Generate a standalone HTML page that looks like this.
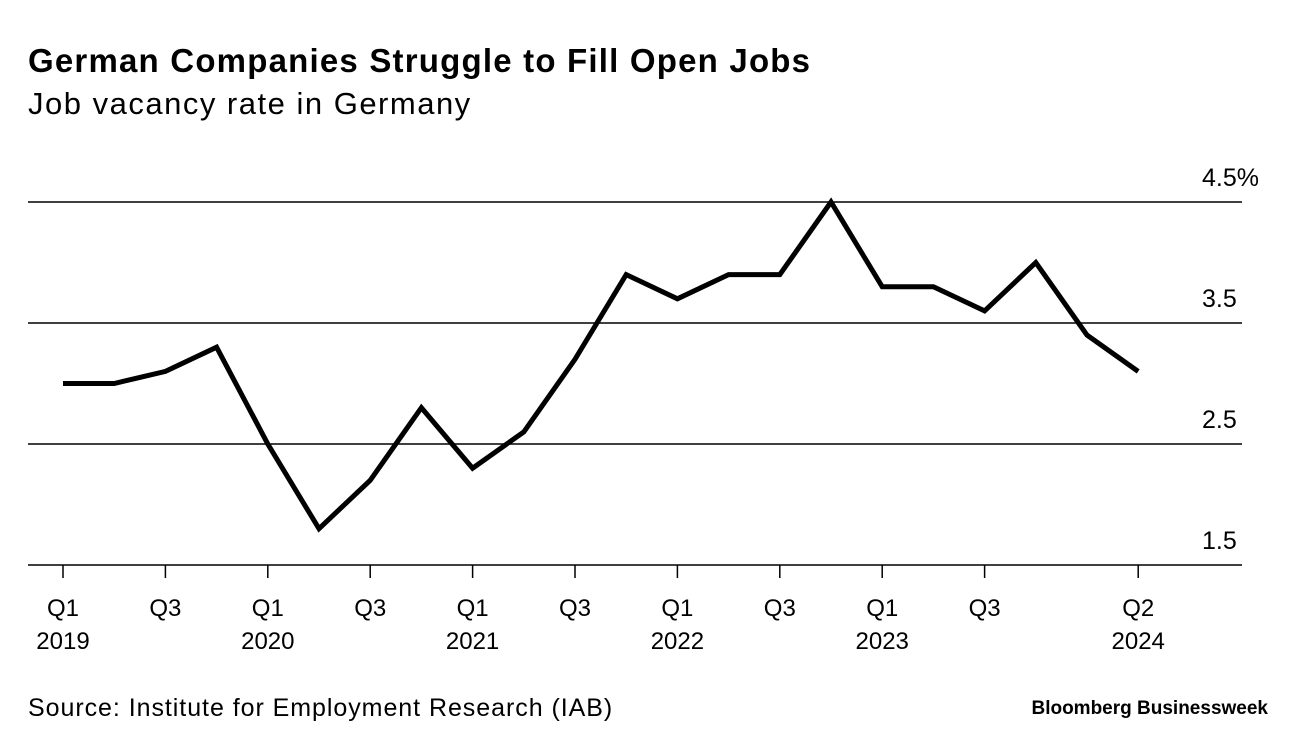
<!DOCTYPE html>
<html><head><meta charset="utf-8"><style>
html,body{margin:0;padding:0;background:#fff;}
body{width:1296px;height:750px;position:relative;font-family:"Liberation Sans",Arial,sans-serif;color:#000;overflow:hidden;}
.t{position:absolute;white-space:nowrap;}
</style></head><body>
<div class="t" style="left:28px;top:42px;font-size:33px;font-weight:bold;letter-spacing:1.2px;">German Companies Struggle to Fill Open Jobs</div>
<div class="t" style="left:28px;top:86px;font-size:31px;letter-spacing:1.5px;">Job vacancy rate in Germany</div>
<svg id="chart" width="1296" height="750" style="position:absolute;left:0;top:0;"></svg>
<div class="t" style="left:28px;top:694px;font-size:25px;letter-spacing:0.95px;">Source: Institute for Employment Research (IAB)</div>
<div class="t" style="right:28px;top:698px;font-size:19px;font-weight:bold;letter-spacing:0px;">Bloomberg Businessweek</div>
<script>
const values=[3.0,3.0,3.1,3.3,2.5,1.8,2.2,2.8,2.3,2.6,3.2,3.9,3.7,3.9,3.9,4.5,3.8,3.8,3.6,4.0,3.4,3.1];
const yTicks=[1.5,2.5,3.5,4.5];
const yTickLabels=["1.5","2.5","3.5","4.5%"];
const xTickIdx=[0,2,4,6,8,10,12,14,16,18,21];
const xTickTop=["Q1","Q3","Q1","Q3","Q1","Q3","Q1","Q3","Q1","Q3","Q2"];
const xTickBottom=["2019","","2020","","2021","","2022","","2023","","2024"];
const NS="http://www.w3.org/2000/svg";
const svg=document.getElementById('chart');
const x=i=>63+i*51.2;
const y=v=>565-(v-1.5)*121;
function mk(tag,attrs){const e=document.createElementNS(NS,tag);for(const k in attrs)e.setAttribute(k,attrs[k]);svg.appendChild(e);return e;}
yTicks.forEach((v,i)=>{
  const l=mk('line',{x1:28,x2:1242,y1:y(v),y2:y(v),stroke:'#000','stroke-width':1.5});
  
  
  const t=mk('text',{x:1202,y:y(v)-16,'text-anchor':'start','font-size':25,'font-family':'Liberation Sans, Arial, sans-serif'});
  t.textContent=yTickLabels[i];
  
  
});
xTickIdx.forEach((q,i)=>{
  const tk=mk('line',{x1:x(q),x2:x(q),y1:565,y2:578,stroke:'#000','stroke-width':1.5});
  
  
  const t1=mk('text',{x:x(q),y:616,'text-anchor':'middle','font-size':24,'font-family':'Liberation Sans, Arial, sans-serif'});
  t1.textContent=xTickTop[i];
  
  
  if(xTickBottom[i]){
    const t2=mk('text',{x:x(q),y:649,'text-anchor':'middle','font-size':24,'font-family':'Liberation Sans, Arial, sans-serif'});
    t2.textContent=xTickBottom[i];
    
    
  }
});
const d=values.map((v,i)=>(i?'L':'M')+x(i)+','+y(v)).join(' ');
const p=mk('path',{d:d,fill:'none',stroke:'#000','stroke-width':5,'stroke-linejoin':'miter','stroke-linecap':'butt'});


</script>
</body></html>
